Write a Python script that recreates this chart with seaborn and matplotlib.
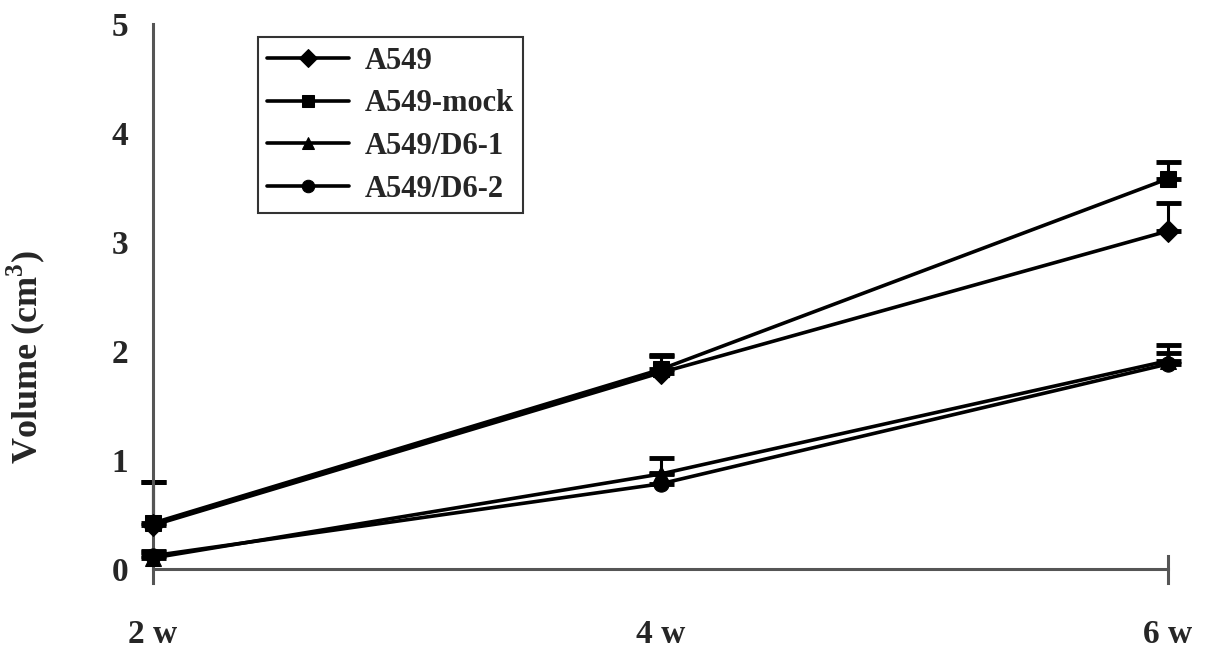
import numpy as np
import pandas as pd
import matplotlib
matplotlib.use("Agg")
import matplotlib.pyplot as plt
import seaborn as sns

# ---- data ----
weeks = [2, 4, 6]
week_labels = ["2 w", "4 w", "6 w"]
groups = ["A549", "A549-mock", "A549/D6-1", "A549/D6-2"]

a549 = [0.40, 1.80, 3.10]
a549_mock = [0.42, 1.83, 3.58]
d6_1 = [0.10, 0.87, 1.91]
d6_2 = [0.12, 0.78, 1.88]

a549_err = [0.40, 0.15, 0.26]
a549_mock_err = [0.38, 0.13, 0.15]
d6_1_err = [0.05, 0.15, 0.14]
d6_2_err = [0.04, 0.10, 0.10]

markers = {"A549": "D", "A549-mock": "s", "A549/D6-1": "^", "A549/D6-2": "o"}

sns.set_style("white")
plt.rcParams["font.family"] = ["Liberation Serif", "DejaVu Serif"]
plt.rcParams["font.weight"] = "bold"
plt.rcParams["mathtext.fontset"] = "custom"
plt.rcParams["mathtext.rm"] = "Liberation Serif:bold"
plt.rcParams["mathtext.bf"] = "Liberation Serif:bold"

vals = [a549, a549_mock, d6_1, d6_2]
errs = [a549_err, a549_mock_err, d6_1_err, d6_2_err]
df = pd.DataFrame({
    "week": np.tile(weeks, len(groups)),
    "volume": np.concatenate(vals),
    "err": np.concatenate(errs),
    "group": np.repeat(groups, len(weeks)),
})

# axes spans pixel x 153..1168, y 24 (=5) .. 583 (=-0.13)
fig = plt.figure(figsize=(12.05, 6.59), dpi=100)
ax = fig.add_axes([153 / 1205, 1 - 583 / 659, 1015 / 1205, 559 / 659])

# upward-only error bars
for g, sub in df.groupby("group", sort=False):
    eb = ax.errorbar(sub["week"], sub["volume"], yerr=[np.zeros(len(sub)), sub["err"]],
                     fmt="none", ecolor="black", elinewidth=2.2, capsize=9, capthick=3.5, zorder=2)
    for art in list(eb.lines[1]) + list(eb.lines[2]):
        art.set_clip_on(False)

sns.lineplot(data=df, x="week", y="volume", style="group", markers=markers, dashes=False,
             color="black", linewidth=2.6, markersize=11, markeredgecolor="black",
             ax=ax, zorder=3, clip_on=False)

ax.set_xlim(2, 6)
ax.set_ylim(-0.13, 5)
ax.set_xticks(weeks)
ax.set_xticklabels(week_labels)
ax.set_yticks([0, 1, 2, 3, 4, 5])
ax.set_xlabel("")
ax.set_ylabel("Volume (cm$^{3}$)", fontsize=26, fontweight="bold")
ax.yaxis.set_label_coords(-0.104, 0.404)

ax.spines["top"].set_visible(False)
ax.spines["bottom"].set_position(("data", 0))
ax.spines["right"].set_bounds(-0.13, 0.12)
for s in ["left", "bottom", "right"]:
    ax.spines[s].set_color("#555555")
    ax.spines[s].set_linewidth(2.2)

ax.tick_params(axis="y", direction="in", length=8, width=2, color="#555555",
               labelsize=24, pad=18, right=False)
ax.tick_params(axis="x", direction="in", length=7, width=2, color="#555555",
               labelsize=24, pad=36)
for lab in ax.get_xticklabels() + ax.get_yticklabels():
    lab.set_fontweight("bold")

leg = ax.legend(loc="upper left", bbox_to_anchor=(0.103, 0.976), borderaxespad=0,
                frameon=True, fancybox=False, edgecolor="black", handlelength=2.7,
                labelspacing=0.45, borderpad=0.3, handletextpad=0.5,
                prop={"family": "Liberation Serif", "weight": "bold", "size": 22})
leg.get_frame().set_linewidth(1.5)
for h in leg.legend_handles:
    h.set_markersize(9)

fig.savefig("out.png", dpi=100)
